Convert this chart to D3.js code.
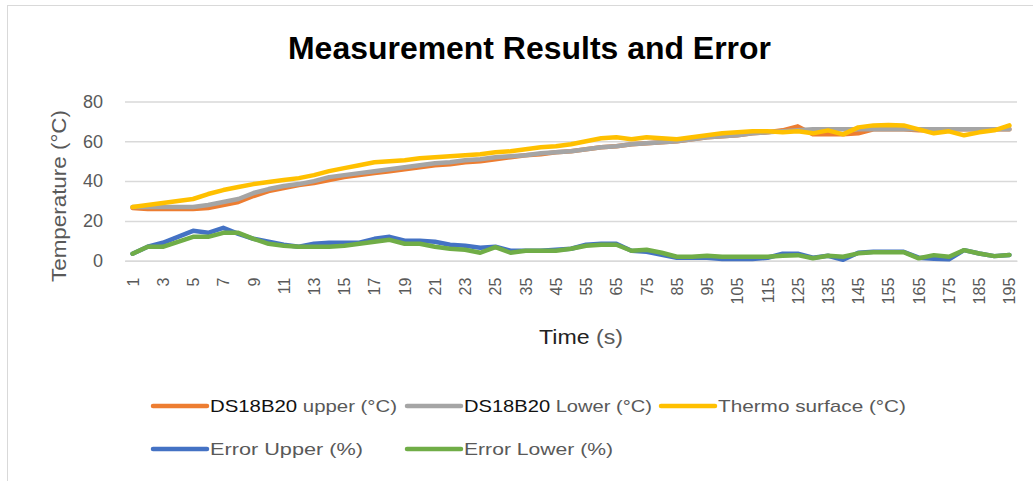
<!DOCTYPE html>
<html><head><meta charset="utf-8">
<script src="https://cdn.jsdelivr.net/npm/d3@7"></script>
<style>html,body{margin:0;padding:0;background:#fff;}svg{display:block;}</style>
</head><body>
<svg id="chart" width="1033" height="481"></svg>
<script>
const categories = ["1","2","3","4","5","6","7","8","9","10","11","12","13","14","15","16","17","18","19","20","21","22","23","24","25",
  "30","35","40","45","50","55","60","65","70","75","80","85","90","95","100","105","110","115","120","125","130","135","140","145","150","155","160","165","170","175","180","185","190","195"];
const tickLabels = ["1","3","5","7","9","11","13","15","17","19","21","23","25","35","45","55","65","75","85","95","105","115","125","135","145","155","165","175","185","195"];
const yTicks = [0,20,40,60,80];

const upperC = [26.5,26,26,26,26,26.5,28,29.5,32.5,35,36.5,38,39,40.5,42,
  43,44,45,46,47,48,48.5,49.5,50,51,
  52,53,53.5,54.5,55,56,57,57.5,58.5,59,
  59.5,60,61,62,62.5,63,64,64.5,65.5,67.5,
  63.5,63.5,63.5,64,66,66,66,65.5,65.5,66,
  66,66,66,66];
const lowerC = [27,27,27,27,27,28,29.5,31,34,36,37.5,38.5,40,42,43,
  44,45,46,47,48,49,49.5,50.5,51,52,
  52.5,53,54,54.5,55,56,57,57.5,58.5,59,
  59.5,60,61,62,62.5,63,64,64.5,65,65.5,
  66,66,66,66,66,66,66,66,66,66,
  66,66,66,66];
const thermoC = [27,28,29,30,31,33.5,35.5,37,38.5,39.5,40.5,41.5,43,45,46.5,
  48,49.5,50,50.5,51.5,52,52.5,53,53.5,54.5,
  55,56,57,57.5,58.5,60,61.5,62,61,62,
  61.5,61,62,63,64,64.5,65,65,64.5,65,
  64,65.5,63.5,67,68,68.2,68,66,64,65,
  63,64.5,65.5,68];
const errUpper = [3.5,7,9,12,15,14,16.5,13.5,11,9.5,8,7,8.5,9,9,
  9,11,12,10,10,9.5,8,7.5,6.5,7,
  5,5,5,5.5,6,8,8.5,8.5,5,4.5,
  3,1.5,1.5,1.5,0.8,0.8,0.8,1.5,3.5,3.5,
  1.5,2.5,0.5,4,4.5,4.5,4.5,1.5,1,0.7,
  5.3,3.6,2.3,2.9];
const errLower = [3.5,7,7,9.5,12,12,14,14,11,8.5,7.5,7,7,7,7.5,
  8.5,9.5,10.5,8.5,8.5,7,6,5.5,4,6.8,
  4,5,5,5,6,7.5,8,8,5,5.5,
  4,2,2,2.5,2,2,2,2,2.5,2.8,
  1.2,2.5,2,3.7,4.3,4.3,4.3,1.2,2.8,2,
  5.3,3.6,2.3,2.9];

const seriesNames = ["DS18B20 upper (°C)","DS18B20 Lower (°C)","Thermo surface (°C)","Error Upper (%)","Error Lower (%)"];
const seriesColors = ["#ED7D31","#A5A5A5","#FFC000","#4472C4","#70AD47"];
const seriesValues = [upperC, lowerC, thermoC, errUpper, errLower];

const svg = d3.select("#chart");
const font = "'Liberation Sans', Arial, sans-serif";

// chart border
svg.append("rect").attr("x",7.5).attr("y",5.5).attr("width",1040).attr("height",480)
  .attr("fill","none").attr("stroke","#d9d9d9").attr("stroke-width",1);

const plot = {left:125, right:1017, top:101.5, bottom:260.7};
const x = d3.scalePoint().domain(categories).range([plot.left, plot.right]).padding(0.5);
const y = d3.scaleLinear().domain([0,80]).range([plot.bottom, plot.top]);

// title
svg.append("text").attr("x",529.5).attr("y",59).attr("text-anchor","middle")
  .attr("font-family",font).attr("font-weight","bold").attr("font-size",31)
  .attr("textLength",483).attr("lengthAdjust","spacingAndGlyphs")
  .attr("fill","#000").text("Measurement Results and Error");

// gridlines
const yAxis = d3.axisLeft(y).tickValues(yTicks).tickSize(-(plot.right-plot.left)).tickPadding(22);
const gy = svg.append("g").attr("transform",`translate(${plot.left},0)`).call(yAxis);
gy.select(".domain").remove();
gy.selectAll(".tick line").attr("stroke","#d9d9d9").attr("stroke-width",1.5);
gy.selectAll(".tick text").attr("font-family",font).attr("font-size",18).attr("fill","#595959");

// x axis
const xAxis = d3.axisBottom(x).tickValues(categories.filter(c=>tickLabels.includes(c))).tickSize(0).tickPadding(0);
const gx = svg.append("g").attr("transform",`translate(0,${plot.bottom})`).call(xAxis);
gx.select(".domain").attr("stroke","#d9d9d9").attr("stroke-width",1.5);
gx.selectAll(".tick text")
  .attr("font-family",font).attr("font-size",16).attr("fill","#595959")
  .attr("text-anchor","end").attr("dy",null).attr("y",0)
  .attr("dominant-baseline","central")
  .attr("transform","translate(0,17) rotate(-90)");

// axis titles
svg.append("text").attr("transform","translate(66,196) rotate(-90)").attr("text-anchor","middle")
  .attr("font-family",font).attr("font-size",21).attr("fill","#595959")
  .attr("textLength",172).attr("lengthAdjust","spacingAndGlyphs").text("Temperature (°C)");
const tt = svg.append("text").attr("x",539).attr("y",344)
  .attr("font-family",font).attr("font-size",20)
  .attr("textLength",84).attr("lengthAdjust","spacingAndGlyphs");
tt.append("tspan").attr("fill","#222").text("Time ");
tt.append("tspan").attr("fill","#595959").text("(s)");

// lines
const line = d3.line().x((d,i)=>x(categories[i])).y(d=>y(d));
seriesValues.forEach((vals,k)=>{
  svg.append("path").datum(vals).attr("d",line)
    .attr("fill","none").attr("stroke",seriesColors[k]).attr("stroke-width",4.5)
    .attr("stroke-linejoin","round").attr("stroke-linecap","round");
});

// legend
const legendPos = [
  {lx:153, ty:406, tl:187},
  {lx:407, ty:406, tl:188},
  {lx:661, ty:406, tl:188},
  {lx:153, ty:449, tl:153},
  {lx:407, ty:449, tl:149}
];
seriesNames.forEach((name,k)=>{
  const p = legendPos[k];
  svg.append("line").attr("x1",p.lx).attr("x2",p.lx+54).attr("y1",p.ty).attr("y2",p.ty)
    .attr("stroke",seriesColors[k]).attr("stroke-width",4.5).attr("stroke-linecap","round");
  const t = svg.append("text").attr("x",p.lx+57).attr("y",p.ty+6)
    .attr("font-family",font).attr("font-size",17)
    .attr("textLength",p.tl).attr("lengthAdjust","spacingAndGlyphs");
  if (name.startsWith("DS18B20")) {
    t.append("tspan").attr("fill","#111").text("DS18B20");
    t.append("tspan").attr("fill","#595959").text(name.slice(7));
  } else {
    t.attr("fill","#595959").text(name);
  }
});
</script>
</body></html>
